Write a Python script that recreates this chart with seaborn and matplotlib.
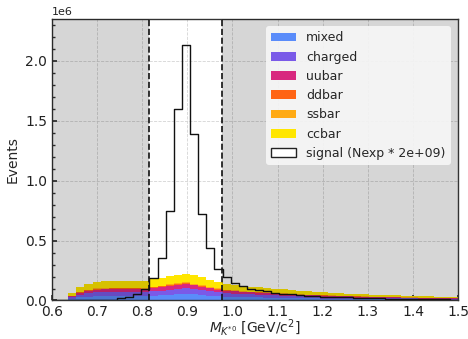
import numpy as np
import pandas as pd
import matplotlib
matplotlib.use("Agg")
import matplotlib.pyplot as plt
from matplotlib.patches import Patch
from matplotlib.ticker import AutoMinorLocator, MultipleLocator
import seaborn as sns

# ---------------- data (events per bin, in thousands) ----------------
x_min, x_max, n_bins = 0.6, 1.5, 50
samples = ["mixed", "charged", "uubar", "ddbar", "ssbar", "ccbar"]
colors = ["#5a8cfa", "#7a5ae8", "#d8287f", "#ff6414", "#ffaa14", "#ffe600"]

mixed = [0, 0, 14, 26, 32, 36, 37, 38, 38, 38, 38, 37, 41, 44, 48, 51, 55, 51, 46, 41,
         36, 32, 30, 28, 27, 25, 24, 23, 21, 20, 19, 18, 17, 16, 15, 14, 13, 13, 12, 11,
         11, 10, 10, 9, 9, 8, 8, 7, 7, 7]
charged = [0, 0, 12, 23, 29, 32, 34, 34, 35, 35, 34, 34, 37, 39, 42, 44, 46, 43, 40, 36,
           32, 29, 27, 25, 24, 23, 21, 20, 19, 18, 17, 16, 15, 14, 13, 13, 12, 11, 11, 10,
           10, 9, 9, 8, 8, 7, 7, 7, 6, 6]
uubar = [0, 0, 9, 17, 21, 23, 24, 24, 24, 24, 24, 24, 26, 28, 31, 33, 35, 32, 29, 26,
         23, 21, 19, 18, 17, 16, 15, 14, 14, 13, 12, 11, 11, 10, 10, 9, 9, 8, 8, 7,
         7, 7, 6, 6, 6, 5, 5, 5, 5, 4]
ddbar = [0, 0, 2, 3, 4, 5, 5, 5, 5, 5, 5, 5, 5, 6, 6, 6, 7, 6, 6, 5,
         5, 4, 4, 4, 3, 3, 3, 3, 3, 3, 2, 2, 2, 2, 2, 2, 2, 2, 2, 1,
         1, 1, 1, 1, 1, 1, 1, 1, 1, 1]
ssbar = [0, 0, 2, 4, 5, 5, 6, 6, 6, 6, 6, 6, 6, 7, 7, 8, 8, 8, 7, 6,
         6, 5, 5, 4, 4, 4, 4, 4, 3, 3, 3, 3, 3, 2, 2, 2, 2, 2, 2, 2,
         2, 2, 2, 1, 1, 1, 1, 1, 1, 1]
ccbar = [0, 0, 21, 42, 49, 54, 56, 58, 58, 58, 58, 56, 63, 66, 71, 73, 74, 72, 67, 61,
         53, 49, 45, 43, 41, 39, 37, 34, 32, 30, 29, 27, 25, 25, 23, 21, 20, 19, 17, 18,
         16, 16, 14, 15, 13, 14, 12, 11, 11, 11]
signal = [0, 0, 0, 0, 0, 2, 4, 8, 17, 33, 55, 95, 185, 355, 750, 1595, 2130, 1390, 720, 437,
          260, 192, 148, 118, 100, 88, 76, 66, 57, 51, 46, 41, 37, 33, 30, 28, 25, 23, 21, 19,
          17, 16, 14, 13, 12, 11, 10, 9, 9, 8]
signal_label = "signal (Nexp * 2e+09)"
window = [0.816, 0.976]

# ---------------- build tables ----------------
series = {"mixed": mixed, "charged": charged, "uubar": uubar,
          "ddbar": ddbar, "ssbar": ssbar, "ccbar": ccbar}
edges = np.linspace(x_min, x_max, n_bins + 1)
centers = 0.5 * (edges[:-1] + edges[1:])
bkg = pd.concat([
    pd.DataFrame({"mass": centers, "events": np.array(v, float) * 1e3, "sample": k})
    for k, v in series.items()
], ignore_index=True)
sig = pd.DataFrame({"mass": centers, "events": np.array(signal, float) * 1e3})
palette = dict(zip(samples, colors))

# ---------------- style ----------------
sns.set_theme(style="ticks")
plt.rcParams.update({
    "font.family": ["DejaVu Sans"],
    "xtick.direction": "in", "ytick.direction": "in",
    "xtick.top": False, "ytick.right": False,
    "xtick.major.size": 3.5, "ytick.major.size": 3.5,
    "ytick.minor.size": 2, "xtick.minor.size": 2,
    "axes.edgecolor": "#333333", "axes.linewidth": 1.0,
    "xtick.color": "#333333", "ytick.color": "#333333",
    "xtick.labelcolor": "#222222", "ytick.labelcolor": "#222222",
    "xtick.labelsize": 10, "ytick.labelsize": 10,
})

fig = plt.figure(figsize=(4.68, 3.39), dpi=100)
ax = fig.add_axes([0.111, 0.1136, 0.868, 0.8304])

# stacked backgrounds: seaborn puts the last hue level at the bottom
sns.histplot(data=bkg, x="mass", weights="events", hue="sample",
             hue_order=samples[::-1], palette=palette, multiple="stack",
             bins=n_bins, binrange=(x_min, x_max), element="step",
             linewidth=0, alpha=1.0, legend=False, ax=ax, zorder=2)

# shaded side-bands
ax.axvspan(x_min, window[0], color="black", alpha=0.16, lw=0, zorder=3)
ax.axvspan(window[1], x_max, color="black", alpha=0.16, lw=0, zorder=3)

# signal
sns.histplot(data=sig, x="mass", weights="events", bins=n_bins,
             binrange=(x_min, x_max), element="step", fill=False,
             color="#111111", linewidth=1.0, ax=ax, zorder=4)

for w in window:
    ax.axvline(w, color="#111111", ls="--", lw=1.2, zorder=5)

ax.set_xlim(x_min, x_max)
ax.set_ylim(0, 2.35e6)
ax.xaxis.set_major_locator(MultipleLocator(0.1))
ax.yaxis.set_major_locator(MultipleLocator(0.5e6))
ax.yaxis.set_minor_locator(AutoMinorLocator(5))
ax.tick_params(which="minor", axis="y", direction="in")
ax.grid(True, which="major", color="#d4d4d4", ls="--", lw=0.6, zorder=1)
ax.set_axisbelow(True)
ax.yaxis.get_offset_text().set_fontsize(8)

ax.set_xlabel(r"$M_{K^{*0}}$ [GeV/c$^2$]", fontsize=10, labelpad=-1)
ax.set_ylabel("Events", fontsize=10, labelpad=4)

handles = [Patch(facecolor=c, edgecolor="none", label=s) for s, c in zip(samples, colors)]
handles.append(Patch(facecolor="white", edgecolor="#222222", lw=1.0, label=signal_label))
leg = ax.legend(handles=handles, loc="upper right", fontsize=9, frameon=True,
                facecolor="#f7f7f7", edgecolor="none", framealpha=0.9, fancybox=True,
                borderaxespad=0.6)
leg.set_zorder(10)

fig.savefig("out.png", dpi=100)
